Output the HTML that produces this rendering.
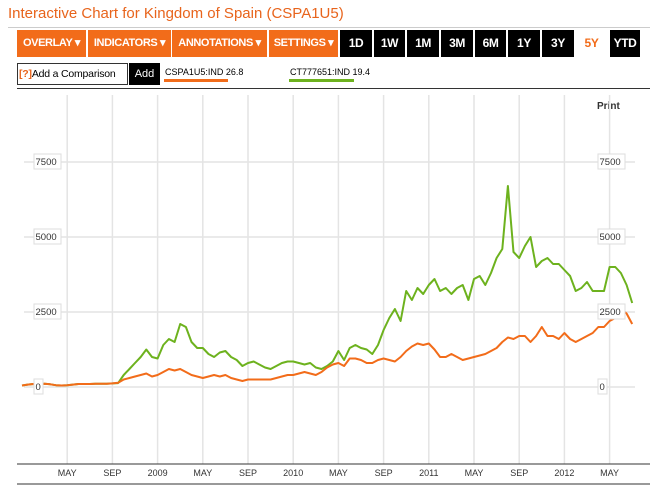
<!DOCTYPE html>
<html><head><meta charset="utf-8"><style>
body{margin:0;width:650px;height:486px;background:#fff;font-family:"Liberation Sans",sans-serif;position:relative;overflow:hidden}
.a{position:absolute;white-space:nowrap}
.btn{position:absolute;top:30px;height:27px;line-height:27px;color:#fff;font-weight:bold;font-size:11px;letter-spacing:-0.4px;text-align:center;background:#f26c1a;white-space:nowrap;overflow:hidden}
.blk{background:#000;font-size:12px}
</style></head><body>
<div class="a" style="left:8px;top:5px;font-size:15px;color:#e8641c">Interactive Chart for Kingdom of Spain (CSPA1U5)</div>
<div class="a" style="left:8px;top:27px;width:642px;height:1px;background:#ccc"></div>
<div class="btn" style="left:17px;width:69px">OVERLAY ▾</div>
<div class="btn" style="left:88px;width:83px">INDICATORS ▾</div>
<div class="btn" style="left:172px;width:95px">ANNOTATIONS ▾</div>
<div class="btn" style="left:269px;width:69px">SETTINGS ▾</div>
<div class="btn blk" style="left:340px;width:32px">1D</div>
<div class="btn blk" style="left:374px;width:31px">1W</div>
<div class="btn blk" style="left:407px;width:32px">1M</div>
<div class="btn blk" style="left:441px;width:32px">3M</div>
<div class="btn blk" style="left:475px;width:31px">6M</div>
<div class="btn blk" style="left:508px;width:32px">1Y</div>
<div class="btn blk" style="left:542px;width:32px">3Y</div>
<div class="btn" style="left:575px;width:33px;background:#fff;color:#f26c1a;font-size:12px">5Y</div>
<div class="btn blk" style="left:610px;width:30px">YTD</div>
<div class="a" style="left:17px;top:63px;width:109px;height:20px;border:1px solid #333;font-size:10.5px;letter-spacing:-0.2px;line-height:20px;color:#000;overflow:hidden"><span style="color:#e8641c;font-weight:bold;margin-left:1px">[?]</span>Add a Comparison</div>
<div class="a" style="left:129px;top:63px;width:31px;height:22px;background:#000;color:#fff;font-size:11px;line-height:22px;text-align:center">Add</div>
<div class="a" style="left:165px;top:67px;font-size:9px;color:#000">CSPA1U5:IND 26.8</div>
<div class="a" style="left:164px;top:79px;width:64px;height:3px;background:#f26c1a"></div>
<div class="a" style="left:290px;top:67px;font-size:9px;color:#000">CT777651:IND 19.4</div>
<div class="a" style="left:289px;top:79px;width:65px;height:3px;background:#6db21e"></div>
<div class="a" style="left:17px;top:88px;width:633px;height:1px;background:#333"></div>
<div class="a" style="left:597px;top:101px;font-size:10px;font-weight:bold;color:#333">Print</div>
<svg class="a" style="left:0;top:0" width="650" height="486" id="chart"></svg>
<script>
const xLabels=["MAY","SEP","2009","MAY","SEP","2010","MAY","SEP","2011","MAY","SEP","2012","MAY"];
const xLabelMonths=[4,8,12,16,20,24,28,32,36,40,44,48,52];
const yTicks=[0,2500,5000,7500];
const greenVals=[50,80,100,90,110,90,60,50,60,80,100,100,100,110,110,110,120,130,400,600,800,1000,1250,1000,
950,1400,1600,1500,2100,2000,1500,1300,1300,1100,1000,1150,1200,1000,900,700,800,850,750,650,600,700,800,850,
850,800,750,800,650,600,700,850,1200,900,1300,1400,1300,1250,1100,1400,1900,2300,2600,2200,3200,2900,3300,3100,
3400,3600,3200,3300,3100,3300,3400,2900,3600,3700,3400,3800,4300,4600,6700,4500,4300,4700,5000,4000,4200,4300,4100,4100,
3900,3700,3200,3300,3500,3200,3200,3200,4000,4000,3800,3400,2800];
const orangeVals=[50,80,100,90,110,90,60,50,60,80,100,100,100,110,110,110,120,140,250,300,350,400,450,350,
400,500,600,550,600,500,400,350,300,350,400,350,400,300,250,200,250,250,250,250,250,300,350,400,
400,450,500,450,400,500,650,750,800,700,950,950,900,800,800,900,950,900,850,1000,1200,1350,1450,1400,
1450,1250,1000,1000,1100,1000,900,950,1000,1050,1100,1200,1300,1500,1650,1600,1700,1700,1500,1700,2000,1700,1700,1600,
1800,1600,1500,1600,1700,1800,2000,2000,2200,2300,2600,2450,2100];
const svg=document.getElementById('chart');const NS='http://www.w3.org/2000/svg';
const X=m=>22+m*11.3, Y=v=>387-v*75/2500;
function mk(t,a){const e=document.createElementNS(NS,t);for(const k in a)e.setAttribute(k,a[k]);svg.appendChild(e);return e;}
xLabelMonths.forEach((m,i)=>{
 const l=mk('line',{x1:X(m),x2:X(m),y1:95,y2:464,stroke:'#e4e4e4','stroke-width':1.5});
 
 
 const t=mk('text',{x:X(m),y:476,'text-anchor':'middle','font-size':9,fill:'#333','font-family':'Liberation Sans'});
 t.textContent=xLabels[i];
 
 
});
yTicks.forEach(v=>{
 const l=mk('line',{x1:24,x2:635,y1:Y(v),y2:Y(v),stroke:'#e4e4e4','stroke-width':1.5});
 
 
});
mk('line',{x1:17,x2:650,y1:464,y2:464,stroke:'#333'});
mk('line',{x1:17,x2:650,y1:484,y2:484,stroke:'#333'});
function series(vals,col,name){
 const d=vals.map((v,i)=>(i?'L':'M')+X(i*0.5).toFixed(1)+','+Y(v).toFixed(1)).join(' ');
 const p=mk('path',{d:d,fill:'none',stroke:col,'stroke-width':2,'stroke-linejoin':'round'});
 
 
}
series(greenVals,'#6db21e','ct777651-line');
series(orangeVals,'#f26c1a','cspa1u5-line');
yTicks.forEach(v=>{
 const s=String(v);const w=s.length*6+3;
 [[34,'left'],[598,'right']].forEach(([x0,side])=>{
  const r=mk('rect',{x:x0,y:Y(v)-8,width:w,height:15,fill:'#fff',stroke:'#ddd'});
  
  
  const t=mk('text',{x:x0+1.5,y:Y(v)+3,'font-size':9.5,fill:'#333','font-family':'Liberation Sans'});
  t.textContent=s;
  
  
 });
});
</script>
</body></html>
